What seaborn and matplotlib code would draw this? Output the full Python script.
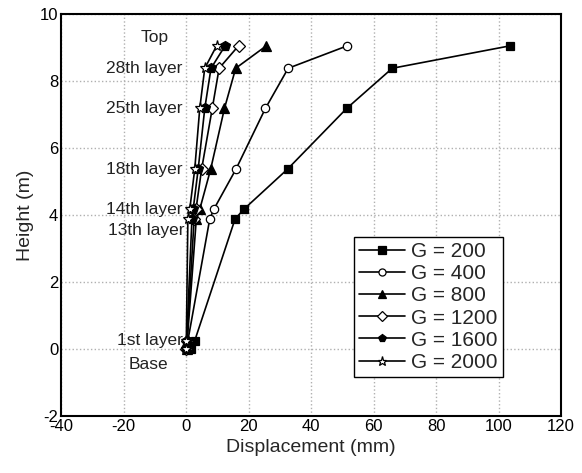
import pandas as pd
import seaborn as sns
import matplotlib.pyplot as plt

# layer heights (m)
heights = [0, 0.25, 3.88, 4.17, 5.37, 7.18, 8.38, 9.05]
layer_names = ['Base', '1st layer', '13th layer', '14th layer', '18th layer', '25th layer', '28th layer', 'Top']

# displacement (mm) for each shear modulus
g_labels = ['G = 200', 'G = 400', 'G = 800', 'G = 1200', 'G = 1600', 'G = 2000']
disp_200 = [1.5, 2.8, 15.7, 18.5, 32.5, 51.4, 66.0, 103.7]
disp_400 = [0.4, 0.6, 7.6, 8.9, 16.0, 25.4, 32.7, 51.6]
disp_800 = [0.2, 0.4, 3.3, 4.4, 7.9, 12.3, 15.9, 25.7]
disp_1200 = [0.1, 0.3, 2.6, 3.2, 5.0, 8.4, 10.6, 16.8]
disp_1600 = [0.1, 0.2, 1.9, 2.3, 3.9, 6.0, 8.0, 12.5]
disp_2000 = [0.0, 0.1, 0.6, 1.2, 2.8, 4.4, 6.0, 9.8]

series = [disp_200, disp_400, disp_800, disp_1200, disp_1600, disp_2000]
markers = ['s', 'o', '^', 'D', 'p', '*']
faces = ['black', 'white', 'black', 'white', 'black', 'white']
sizes = [6, 6, 7, 6, 7, 8]

sns.set_style('white')
plt.rcParams['font.family'] = ['Liberation Sans', 'DejaVu Sans']
plt.rcParams['axes.unicode_minus'] = False

fig = plt.figure(figsize=(5.82, 4.73), dpi=100)
ax = fig.add_axes([61 / 582, 1 - 416 / 473, 500 / 582, 402 / 473])

for lab, vals, m, fc, ms in zip(g_labels, series, markers, faces, sizes):
    df = pd.DataFrame({'disp': vals, 'h': heights})
    sns.lineplot(data=df, x='disp', y='h', sort=False, estimator=None, ax=ax,
                 color='black', lw=1.2, marker=m, markersize=ms,
                 markerfacecolor=fc, markeredgecolor='black', markeredgewidth=0.9,
                 label=lab)

# layer annotations
lab_font = dict(fontsize=12.5, family='Liberation Sans', color='#222222')
for name, h in zip(layer_names, heights):
    if name == 'Top':
        ax.text(-10.0, h + 0.25, name, ha='center', va='center', **lab_font)
    elif name == 'Base':
        ax.text(-12.0, h - 0.45, name, ha='center', va='center', **lab_font)
    elif name == '13th layer':
        ax.text(-0.5, h - 0.35, name, ha='right', va='center', **lab_font)
    else:
        ax.text(-1.0, h, name, ha='right', va='center', **lab_font)

ax.set_xlim(-40, 120)
ax.set_ylim(-2, 10)
ax.set_xticks(range(-40, 121, 20))
ax.set_yticks(range(-2, 11, 2))
ax.grid(True, linestyle=':', color='#b0b0b0', lw=1.0)
ax.tick_params(direction='in', length=4, width=1, labelsize=12, pad=2, colors='black')
for sp in ax.spines.values():
    sp.set_color('black')
    sp.set_linewidth(1.5)
    sp.set_visible(True)

ax.set_xlabel('Displacement (mm)', fontsize=14, labelpad=4)
ax.set_ylabel('Height (m)', fontsize=14, labelpad=4)

leg = ax.legend(loc='lower right', bbox_to_anchor=(0.883, 0.097), fontsize=15,
                frameon=True, fancybox=False, edgecolor='black', framealpha=1,
                handlelength=2.2, handletextpad=0.3, borderpad=0.25, labelspacing=0.15,
                borderaxespad=0, markerscale=0.85)
leg.get_frame().set_linewidth(1.0)

fig.savefig('out.png', dpi=100)
